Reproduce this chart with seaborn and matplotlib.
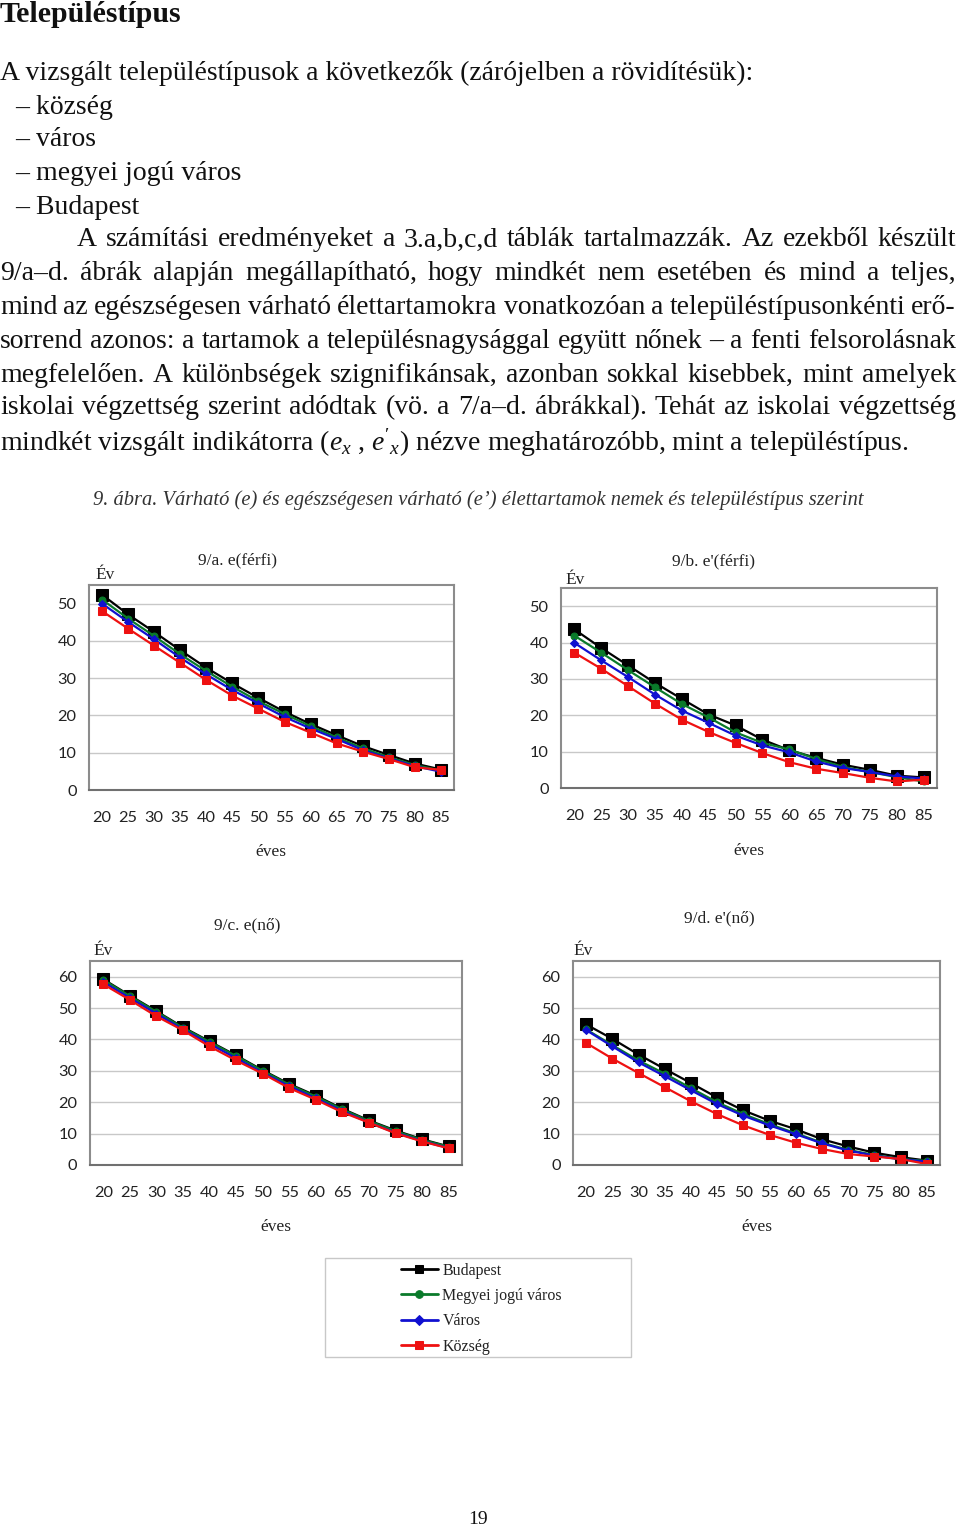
import matplotlib
matplotlib.use("Agg")
import matplotlib.pyplot as plt
from matplotlib.patches import Rectangle
import seaborn as sns
import numpy as np

sns.set_style("white")
plt.rcParams['font.family'] = ['Liberation Serif', 'DejaVu Serif']
plt.rcParams['mathtext.fontset'] = 'custom'
plt.rcParams['mathtext.rm'] = 'Liberation Serif'
plt.rcParams['mathtext.it'] = 'Liberation Serif:italic'

W, H = 960, 1531

# ---------------- data ----------------
ages = [20, 25, 30, 35, 40, 45, 50, 55, 60, 65, 70, 75, 80, 85]
series_names = ["Budapest", "Megyei jogú város", "Város", "Község"]

a_bp = [52.4, 47.1, 42.4, 37.5, 32.8, 28.6, 24.7, 21.0, 17.7, 14.7, 11.8, 9.4, 7.1, 5.5]
a_mj = [51.1, 46.0, 41.3, 36.4, 31.9, 27.7, 23.8, 20.4, 17.1, 14.1, 11.2, 8.8, 6.7, 5.2]
a_v = [50.0, 45.1, 40.4, 35.5, 31.0, 26.8, 23.2, 19.6, 16.5, 13.7, 10.7, 8.5, 6.4, 4.9]
a_k = [48.0, 43.3, 38.7, 34.1, 29.5, 25.3, 21.8, 18.3, 15.4, 12.5, 10.3, 8.3, 6.1, 5.4]

b_bp = [43.6, 38.5, 33.7, 28.9, 24.5, 20.2, 17.2, 13.3, 10.4, 8.3, 6.4, 5.0, 3.4, 2.9]
b_mj = [41.9, 37.2, 32.4, 27.7, 23.1, 19.4, 15.3, 12.4, 10.6, 8.0, 5.8, 4.4, 3.0, 1.8]
b_v = [39.9, 35.1, 30.5, 25.7, 21.3, 17.9, 14.4, 11.7, 9.8, 7.3, 5.5, 4.4, 3.2, 2.6]
b_k = [37.2, 32.8, 28.0, 23.2, 18.8, 15.4, 12.4, 9.6, 7.1, 5.3, 4.1, 2.8, 1.8, 2.3]

c_bp = [59.2, 54.0, 49.0, 43.9, 39.4, 34.9, 30.2, 25.8, 22.1, 17.9, 14.2, 11.0, 8.2, 5.9]
c_mj = [59.0, 53.8, 48.8, 43.7, 39.2, 34.7, 30.0, 25.6, 21.8, 17.7, 14.0, 10.8, 8.0, 5.8]
c_v = [58.3, 53.2, 48.2, 43.2, 38.6, 34.0, 29.4, 25.1, 21.2, 17.2, 13.5, 10.3, 7.6, 5.4]
c_k = [57.6, 52.6, 47.4, 42.9, 37.8, 33.3, 29.1, 24.5, 20.8, 16.8, 13.5, 10.1, 7.5, 5.3]

d_bp = [44.8, 40.2, 35.2, 30.6, 26.1, 21.5, 17.4, 14.1, 11.4, 8.2, 5.9, 3.9, 2.5, 1.4]
d_mj = [43.2, 38.2, 33.3, 29.1, 24.5, 20.0, 16.2, 13.0, 10.1, 7.1, 4.8, 3.2, 1.9, 1.3]
d_v = [43.0, 37.8, 32.7, 28.3, 23.8, 19.4, 15.7, 12.6, 9.8, 6.9, 4.6, 3.0, 1.8, 1.1]
d_k = [38.9, 33.9, 29.3, 24.8, 20.3, 16.2, 12.6, 9.6, 7.1, 5.1, 3.5, 2.7, 1.9, 0.3]

panel_titles = ["9/a. e(férfi)", "9/b. e'(férfi)", "9/c. e(nő)", "9/d. e'(nő)"]
yticks_men = [0, 10, 20, 30, 40, 50]
yticks_women = [0, 10, 20, 30, 40, 50, 60]

# ---------------- styles ----------------
colors = {"Budapest": "#000000", "Megyei jogú város": "#0a7a2a",
          "Város": "#1010d0", "Község": "#ee1111"}
markers = {"Budapest": "s", "Megyei jogú város": "o", "Város": "D", "Község": "s"}
msizes = {"Budapest": 8.0, "Megyei jogú város": 5.0, "Város": 4.5, "Község": 5.5}

fig = plt.figure(figsize=(W / 100, H / 100), dpi=100)
fig.patch.set_facecolor("white")


def rect(l, t, r, b):
    return [l / W, 1 - b / H, (r - l) / W, (b - t) / H]


def ftext(x, y, s, **kw):
    return fig.text(x / W, 1 - y / H, s, **kw)


panels = [
    dict(rect=(89, 585, 454, 790), data=[a_bp, a_mj, a_v, a_k], ymax=55, yt=yticks_men,
         title=(237, 560), ev=(105, 575), eves=(271, 852)),
    dict(rect=(561, 588, 937, 788), data=[b_bp, b_mj, b_v, b_k], ymax=55, yt=yticks_men,
         title=(714, 561), ev=(575, 580), eves=(749, 851)),
    dict(rect=(90, 961, 462, 1165), data=[c_bp, c_mj, c_v, c_k], ymax=65, yt=yticks_women,
         title=(247, 925), ev=(103, 951), eves=(276, 1227)),
    dict(rect=(573, 961, 940, 1165), data=[d_bp, d_mj, d_v, d_k], ymax=65, yt=yticks_women,
         title=(719, 918), ev=(583, 951), eves=(757, 1227)),
]

tick_font = ['Lato', 'DejaVu Sans']
handles = None
for p, ttl in zip(panels, panel_titles):
    ax = fig.add_axes(rect(*p["rect"]))
    for name, vals in zip(series_names, p["data"]):
        sns.lineplot(x=ages, y=vals, ax=ax, color=colors[name], marker=markers[name],
                     markersize=msizes[name], markeredgecolor=colors[name],
                     linewidth=1.6, label=name, legend=False)
    if ax.get_legend() is not None:
        ax.get_legend().remove()
    ax.set_xlim(17.5, 87.5)
    ax.set_ylim(0, p["ymax"])
    ax.set_yticks(p["yt"])
    ax.set_xticks(ages)
    ax.set_xticks(np.arange(17.5, 88, 5), minor=True)
    ax.tick_params(axis='x', which='major', length=0, pad=15, labelsize=11.8, colors='#222222')
    ax.tick_params(axis='x', which='minor', length=5, width=1, color='#888888', direction='out')
    ax.tick_params(axis='y', length=0, pad=9, labelsize=11.8, colors='#222222')
    for lab in ax.get_xticklabels() + ax.get_yticklabels():
        lab.set_family(tick_font)
    ax.grid(axis='y', color='#c8c8c8', linewidth=1)
    ax.set_axisbelow(True)
    for s in ax.spines.values():
        s.set_visible(True)
        s.set_color('#8c8c8c')
        s.set_linewidth(1.5)
    ax.spines['bottom'].set_color('#707070')
    ax.set_xlabel("")
    ax.set_ylabel("")
    ftext(*p["title"], ttl, ha='center', va='center', fontsize=12.5, color='#222222')
    ftext(*p["ev"], "Év", ha='center', va='center', fontsize=12.5, color='#222222')
    ftext(*p["eves"], "éves", ha='center', va='center', fontsize=12.5, color='#222222')
    if handles is None:
        handles, labels = ax.get_legend_handles_labels()

# legend box
fig.patches.append(Rectangle((325 / W, 1 - 1357 / H), 306 / W, 99 / H, transform=fig.transFigure,
                             facecolor='white', edgecolor='#c8c8c8', linewidth=1))
leg = fig.legend(handles, labels, loc='upper left', bbox_to_anchor=(396 / W, 1 - 1258 / H),
                 frameon=False, fontsize=11.5, handlelength=2.3, handletextpad=0.3,
                 labelspacing=0.58, borderpad=0.3, borderaxespad=0)
for h in leg.legend_handles:
    h.set_markersize(5.5)
    h.set_linewidth(2)
for t in leg.get_texts():
    t.set_color('#222222')

# ---------------- page text ----------------
renderer = fig.canvas.get_renderer()
BODY = 20
TXT = '#111111'


def justify(line, y, x0, x1, **kw):
    words = line.split(' ')
    texts = [ftext(0, y, w, ha='left', va='center', **kw) for w in words]
    widths = [t.get_window_extent(renderer).width for t in texts]
    gap = (x1 - x0 - sum(widths)) / (len(words) - 1)
    x = x0
    for t, w in zip(texts, widths):
        t.set_x(x / W)
        x += w + gap


ftext(0, 15, "Településtípus", ha='left', va='center', fontsize=21.5, fontweight='bold', color=TXT)
ftext(0, 73, "A vizsgált településtípusok a következők (zárójelben a rövidítésük):",
      ha='left', va='center', fontsize=BODY, color=TXT)
for y, s in [(107, "– község"), (140, "– város"), (174, "– megyei jogú város"), (207, "– Budapest")]:
    ftext(15, y, s, ha='left', va='center', fontsize=BODY, color=TXT)

para = [
    ("A számítási eredményeket a 3.a,b,c,d táblák tartalmazzák. Az ezekből készült", 240, 77),
    ("9/a–d. ábrák alapján megállapítható, hogy mindkét nem esetében és mind a teljes,", 274, 0),
    ("mind az egészségesen várható élettartamokra vonatkozóan a településtípusonkénti erő-", 308, 0),
    ("sorrend azonos: a tartamok a településnagysággal együtt nőnek – a fenti felsorolásnak", 341, 0),
    ("megfelelően. A különbségek szignifikánsak, azonban sokkal kisebbek, mint amelyek", 375, 0),
    ("iskolai végzettség szerint adódtak (vö. a 7/a–d. ábrákkal). Tehát az iskolai végzettség", 408, 0),
]
for s, y, x0 in para:
    justify(s, y, x0, 956, fontsize=BODY, color=TXT)
ftext(0, 443, r"mindkét vizsgált indikátorra ($e_x$ , $e'_x$) nézve meghatározóbb, mint a településtípus.",
      ha='left', va='center', fontsize=BODY, color=TXT)

ftext(93, 500, "9. ábra. Várható (e) és egészségesen várható (e’) élettartamok nemek és településtípus szerint",
      ha='left', va='center', fontsize=14.8, fontstyle='italic', color='#333333')

ftext(478, 1520, "19", ha='center', va='center', fontsize=14, color=TXT)

fig.savefig("out.png", dpi=100, facecolor='white')
